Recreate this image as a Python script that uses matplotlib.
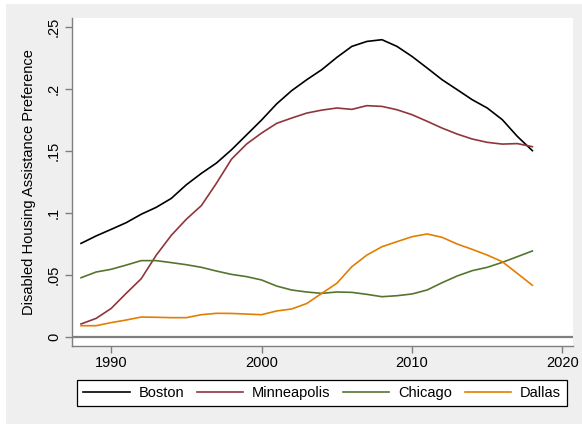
import matplotlib
matplotlib.use('Agg')
import matplotlib.pyplot as plt
from matplotlib.patches import Rectangle

plt.rcParams['font.family'] = ['Liberation Sans', 'DejaVu Sans']

years = list(range(1988, 2019))
boston = [0.0755, 0.0815, 0.0868, 0.0922, 0.0990, 0.1046, 0.1118, 0.1228, 0.1320, 0.1403,
          0.1510, 0.1630, 0.1750, 0.1880, 0.1987, 0.2075, 0.2156, 0.2255, 0.2344, 0.2384,
          0.2398, 0.2344, 0.2263, 0.2170, 0.2075, 0.1995, 0.1914, 0.1847, 0.1753, 0.1618,
          0.1503]
minneapolis = [0.0105, 0.0150, 0.0230, 0.0352, 0.0470, 0.0660, 0.0820, 0.0950, 0.1060, 0.1240,
               0.1434, 0.1556, 0.1645, 0.1723, 0.1766, 0.1806, 0.1830, 0.1847, 0.1836, 0.1866,
               0.1860, 0.1833, 0.1793, 0.1740, 0.1685, 0.1637, 0.1597, 0.1570, 0.1556, 0.1560,
               0.1535]
chicago = [0.0478, 0.0524, 0.0546, 0.0580, 0.0616, 0.0616, 0.0600, 0.0583, 0.0562, 0.0532,
           0.0505, 0.0487, 0.0460, 0.0411, 0.0379, 0.0363, 0.0352, 0.0363, 0.0360, 0.0344,
           0.0325, 0.0333, 0.0347, 0.0379, 0.0438, 0.0492, 0.0535, 0.0562, 0.0602, 0.0648,
           0.0694]
dallas = [0.0091, 0.0091, 0.0116, 0.0137, 0.0161, 0.0159, 0.0156, 0.0156, 0.0180, 0.0191,
          0.0190, 0.0185, 0.0180, 0.0210, 0.0226, 0.0270, 0.0352, 0.0433, 0.0567, 0.0661,
          0.0728, 0.0769, 0.0809, 0.0831, 0.0804, 0.0750, 0.0707, 0.0661, 0.0607, 0.0513,
          0.0417]

yticks = [0, 0.05, 0.1, 0.15, 0.2, 0.25]
ylabels = ['0', '.05', '.1', '.15', '.2', '.25']
xticks = [1990, 2000, 2010, 2020]

W, H = 582, 424
fig = plt.figure(figsize=(W / 100, H / 100), dpi=100, facecolor='white')
fig.patches.append(Rectangle((6 / W, 0), 1, 1 - 4 / H, transform=fig.transFigure,
                             facecolor='#efefef', edgecolor='none', zorder=-10))

ax = fig.add_axes([72 / W, 1 - 346 / H, 501 / W, 328 / H])
ax.set_facecolor('white')

ax.axhline(0, color='#7f7f7f', lw=1.6, zorder=1)
ax.plot(years, boston, color='black', lw=1.2, label='Boston')
ax.plot(years, minneapolis, color='#90353b', lw=1.2, label='Minneapolis')
ax.plot(years, chicago, color='#55752f', lw=1.2, label='Chicago')
ax.plot(years, dallas, color='#e37e00', lw=1.2, label='Dallas')

ax.set_xlim(1987.4, 2020.7)
ax.set_ylim(-0.00726, 0.2573)
ax.set_xticks(xticks)
ax.set_yticks(yticks)
ax.set_yticklabels(ylabels, rotation=90, va='center')
ax.tick_params(axis='both', labelsize=10.5, color='#7f7f7f', length=5, width=1)
ax.tick_params(axis='y', pad=3)
ax.tick_params(axis='x', pad=2)
for s in ['top', 'right']:
    ax.spines[s].set_visible(False)
for s in ['left', 'bottom']:
    ax.spines[s].set_color('#7f7f7f')
    ax.spines[s].set_linewidth(1.0)

ax.set_ylabel('Disabled Housing Assistance Preference', fontsize=10.5, labelpad=8)

leg = fig.legend(loc='center', bbox_to_anchor=((77 + 567) / 2 / W, 1 - 393 / H), ncol=4,
                 fontsize=10.5, frameon=True, fancybox=False, edgecolor='black',
                 handlelength=3.2, handletextpad=0.6, columnspacing=0.85, borderpad=0.4,
                 borderaxespad=0)
leg.get_frame().set_linewidth(0.9)
leg.get_frame().set_facecolor('white')
leg.get_frame().set_alpha(1)

fig.savefig('out.png', dpi=100, facecolor=fig.get_facecolor())
